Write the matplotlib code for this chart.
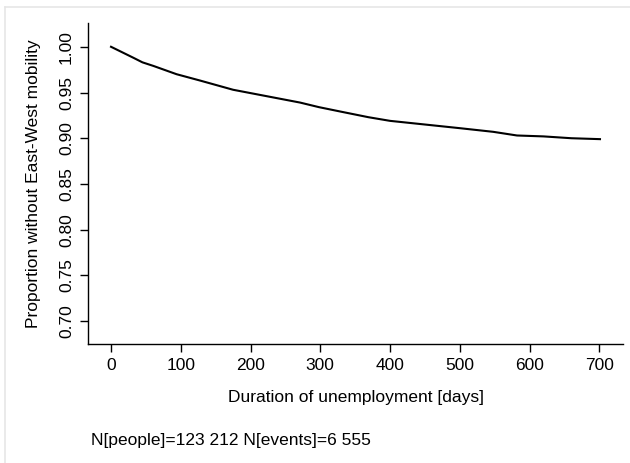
import matplotlib.pyplot as plt
from matplotlib.lines import Line2D

# survival curve
days = [0, 16, 32, 45, 61, 94, 128, 175, 223, 271, 298, 330, 369, 400,
        450, 500, 548, 582, 620, 660, 701]
proportion = [1.000, 0.994, 0.988, 0.983, 0.979, 0.970, 0.963, 0.953, 0.946,
              0.939, 0.934, 0.929, 0.923, 0.919, 0.915, 0.911, 0.907, 0.903,
              0.902, 0.900, 0.899]
x_ticks = [0, 100, 200, 300, 400, 500, 600, 700]
y_ticks = [0.70, 0.75, 0.80, 0.85, 0.90, 0.95, 1.00]

plt.rcParams['font.family'] = ['Liberation Sans', 'DejaVu Sans']
FS = 12.5

W, H = 630, 463
fig = plt.figure(figsize=(W / 100, H / 100), dpi=100)
ax = fig.add_axes([88 / W, 1 - 344 / H, (623 - 88) / W, (344 - 23) / H])

ax.plot(days, proportion, color='black', lw=1.5)

ax.set_xlim(-33, 734)
ax.set_ylim(0.675, 1.026)
ax.set_xticks(x_ticks)
ax.set_yticks(y_ticks)
ax.set_yticklabels([f"{v:.2f}" for v in y_ticks], rotation=90, va='center')
ax.tick_params(direction='out', length=6, width=1, labelsize=FS, pad=4)
for s in ['top', 'right']:
    ax.spines[s].set_visible(False)
for s in ['left', 'bottom']:
    ax.spines[s].set_linewidth(1)

ax.set_xlabel('Duration of unemployment [days]', fontsize=FS, labelpad=12)
ax.set_ylabel('Proportion without East-West mobility', fontsize=FS, labelpad=13)

fig.text(91 / W, 1 - 440 / H, 'N[people]=123 212 N[events]=6 555',
         fontsize=FS, va='center', ha='left')

# faint frame at top and left of the image
fig.add_artist(Line2D([4.5 / W, 1], [1 - 7 / H, 1 - 7 / H], color='#e6e6e6', lw=1.2,
                      transform=fig.transFigure))
fig.add_artist(Line2D([4.5 / W, 4.5 / W], [0, 1 - 7 / H], color='#e6e6e6', lw=1.2,
                      transform=fig.transFigure))

fig.savefig('out.png', dpi=100)
